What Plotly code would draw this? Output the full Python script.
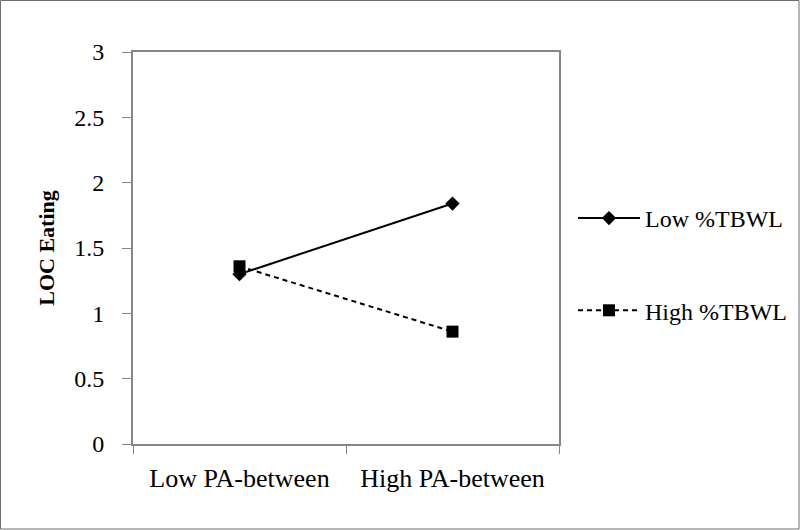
import plotly.graph_objects as go

categories = ["Low PA-between", "High PA-between"]
low_tbwl = [1.30, 1.84]
high_tbwl = [1.36, 0.86]
series_names = ["Low %TBWL", "High %TBWL"]
y_ticks = [0, 0.5, 1, 1.5, 2, 2.5, 3]
y_tick_labels = ["0", "0.5", "1", "1.5", "2", "2.5", "3"]

FONT = "Liberation Serif, Times New Roman, serif"
AXIS_GRAY = "#868686"

fig = go.Figure()
fig.add_trace(go.Scatter(
    x=categories, y=low_tbwl, name=series_names[0], mode="lines+markers",
    line=dict(color="black", width=2, dash="solid"),
    marker=dict(symbol="diamond", size=11, color="black"),
    legendgroup="a",
))
fig.add_trace(go.Scatter(
    x=categories, y=high_tbwl, name=series_names[1], mode="lines+markers",
    line=dict(color="black", width=2, dash="5px,4px"),
    marker=dict(symbol="square", size=12, color="black"),
    legendgroup="b",
))

L, R, T, B = 133, 241, 52, 86
W, H = 800, 530
pw = W - L - R
ph = H - T - B

fig.update_layout(
    width=W, height=H,
    margin=dict(l=L, r=R, t=T, b=B, autoexpand=False),
    paper_bgcolor="white", plot_bgcolor="white",
    font=dict(family=FONT, size=24, color="black"),
    showlegend=True,
    legend=dict(
        x=(573 - L) / pw, xanchor="left",
        y=1 - (196 - T) / ph, yanchor="top",
        tracegroupgap=58,
        font=dict(family=FONT, size=24, color="black"),
        bgcolor="rgba(0,0,0,0)",
        itemwidth=62,
    ),
    xaxis=dict(
        type="category", range=[-0.5, 1.5],
        showline=True, linecolor=AXIS_GRAY, linewidth=2, mirror=True,
        showgrid=False, zeroline=False,
        ticks="outside", tickson="boundaries", ticklen=8, tickcolor=AXIS_GRAY, tickwidth=1,
        tickfont=dict(family=FONT, size=26, color="black"),
        ticklabelstandoff=10,
    ),
    yaxis=dict(
        range=[0, 3], tickvals=y_ticks, ticktext=y_tick_labels,
        showline=True, linecolor=AXIS_GRAY, linewidth=2, mirror=True,
        showgrid=False, zeroline=False,
        ticks="outside", ticklen=9, tickcolor=AXIS_GRAY, tickwidth=1,
        tickfont=dict(family=FONT, size=24, color="black"),
        ticklabelstandoff=13,
        title=dict(text="<b>LOC Eating</b>", font=dict(family=FONT, size=22, color="black"), standoff=14),
    ),
)

# outer border around the whole chart
fig.add_shape(
    type="rect", xref="paper", yref="paper",
    x0=(0.5 - L) / pw, x1=(W - 1.0 - L) / pw,
    y0=-(B - 1.0) / ph, y1=1 + (T - 0.5) / ph,
    line=dict(color="#6e6e6e", width=1), fillcolor="rgba(0,0,0,0)", layer="below",
)

fig.write_html(
    "out.html",
    config={"displayModeBar": False},
    post_script=(
        "var s=document.createElement('style');"
        "s.textContent='html,body{margin:0;padding:0;overflow:hidden;width:800px;height:530px;}';"
        "document.head.appendChild(s);"
    ),
)
